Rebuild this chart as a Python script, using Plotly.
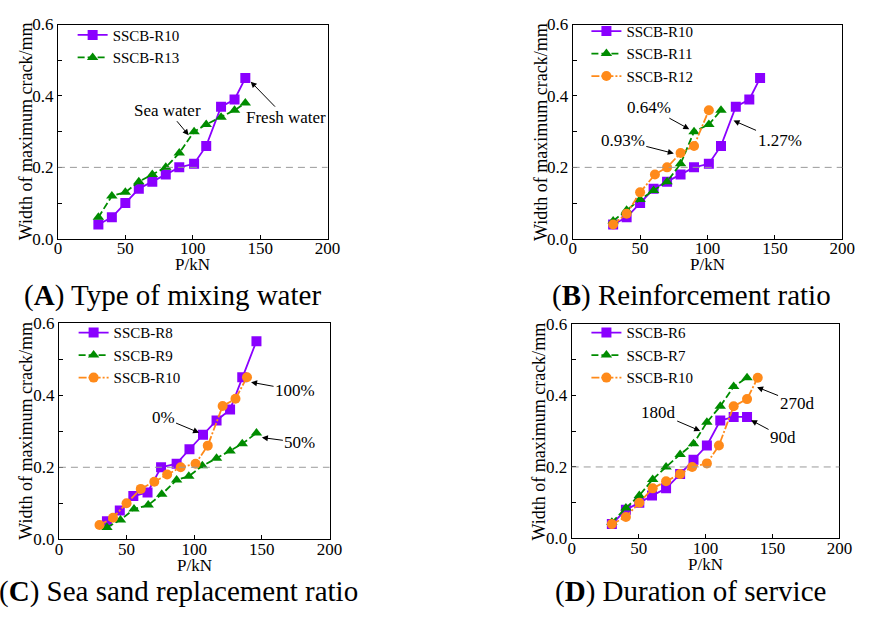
import plotly.graph_objects as go

# ---------------- data ----------------
# Panel A: type of mixing water
A_R10_x = [30, 40, 50, 60, 70, 80, 90, 101, 110, 121, 131, 139]
A_R10_y = [0.04, 0.06, 0.10, 0.14, 0.16, 0.18, 0.20, 0.21, 0.26, 0.37, 0.39, 0.45]
A_R13_x = [30, 40, 50, 60, 70, 80, 90, 101, 110, 121, 131, 139]
A_R13_y = [0.06, 0.12, 0.13, 0.16, 0.18, 0.20, 0.24, 0.30, 0.32, 0.34, 0.36, 0.38]

# Panel B: reinforcement ratio
B_R10_x = [30, 40, 50, 60, 70, 80, 90, 101, 110, 121, 131, 139]
B_R10_y = [0.04, 0.06, 0.10, 0.14, 0.16, 0.18, 0.20, 0.21, 0.26, 0.37, 0.39, 0.45]
B_R11_x = [30, 40, 50, 60, 70, 80, 90, 101, 110]
B_R11_y = [0.05, 0.08, 0.11, 0.135, 0.16, 0.21, 0.30, 0.32, 0.36]
B_R12_x = [30, 40, 50, 61, 70, 80, 90, 101]
B_R12_y = [0.04, 0.07, 0.13, 0.18, 0.20, 0.24, 0.26, 0.36]

# Panel C: sea sand replacement ratio
C_R8_x = [35.5, 45, 55, 65.5, 75.5, 87, 96.5, 106.5, 116.5, 126.5, 135.5, 146]
C_R8_y = [0.05, 0.08, 0.12, 0.13, 0.20, 0.21, 0.25, 0.29, 0.33, 0.36, 0.45, 0.55]
C_R9_x = [35.5, 45.5, 55.5, 66, 76, 87, 96, 106, 116.5, 126.5, 135.5, 146]
C_R9_y = [0.033, 0.054, 0.084, 0.095, 0.125, 0.165, 0.175, 0.204, 0.225, 0.245, 0.265, 0.295]
C_R10_x = [30, 40, 50, 60.5, 70.5, 80, 90, 101, 110, 121, 130.5, 139]
C_R10_y = [0.04, 0.06, 0.10, 0.14, 0.16, 0.18, 0.20, 0.21, 0.26, 0.37, 0.39, 0.45]

# Panel D: duration of service
D_R6_x = [30, 40.5, 50.5, 60, 70.5, 81, 91, 101, 111, 121, 131]
D_R6_y = [0.04, 0.08, 0.10, 0.12, 0.14, 0.18, 0.22, 0.26, 0.33, 0.34, 0.34]
D_R7_x = [30, 40.5, 50.5, 60.5, 70.5, 81, 91, 101, 111, 121, 131]
D_R7_y = [0.045, 0.085, 0.12, 0.165, 0.20, 0.235, 0.265, 0.325, 0.37, 0.425, 0.45]
D_R10_x = [30, 40.5, 50.5, 60.5, 70.5, 81, 90, 101, 110, 121, 131, 139]
D_R10_y = [0.04, 0.06, 0.10, 0.14, 0.16, 0.18, 0.20, 0.21, 0.26, 0.37, 0.39, 0.45]

panel_titles = ["(<b>A</b>) Type of mixing water", "(<b>B</b>) Reinforcement ratio",
                "(<b>C</b>) Sea sand replacement ratio", "(<b>D</b>) Duration of service"]
x_title = "P/kN"
y_title = "Width of maximum crack/mm"

# ---------------- style ----------------
W, H = 872, 624
FONT = "Liberation Serif, Times New Roman, serif"
PURPLE = "#8A00FF"
GREEN = "#008C00"
ORANGE = "#FF8A1A"

STY = {
    "purple": dict(color=PURPLE, dash="solid", symbol="square"),
    "green": dict(color=GREEN, dash="7px,3px", symbol="triangle-up"),
    "orange": dict(color=ORANGE, dash="8px,2px,2px,2px", symbol="circle"),
}

# plot-area pixel boxes (left, right, top, bottom)
boxes = [(55, 330, 16, 237), (580, 855, 16, 237), (56, 332, 324, 547), (579, 852, 325, 546)]

def px_x(p):
    return p / W

def px_y(p):
    return 1 - p / H

fig = go.Figure()
layout = dict(width=W, height=H, margin=dict(l=0, r=0, t=0, b=0),
              paper_bgcolor="white", plot_bgcolor="white",
              font=dict(family=FONT, size=16, color="black"),
              showlegend=True, annotations=[], shapes=[])

for i, (l, r, t, b) in enumerate(boxes):
    k = "" if i == 0 else str(i + 1)
    layout["xaxis" + k] = dict(domain=[px_x(l), px_x(r)], range=[0, 200], anchor="y" + k,
                               tickvals=[0, 50, 100, 150, 200], ticks="inside", ticklen=4,
                               tickcolor="black", showline=True, mirror=True, linecolor="black",
                               linewidth=1.2, showgrid=False, zeroline=False,
                               ticklabelstandoff=-6,
                               tickfont=dict(family=FONT, size=17))
    layout["yaxis" + k] = dict(domain=[px_y(b), px_y(t)], range=[0, 0.6], anchor="x" + k,
                               tickvals=[0, 0.2, 0.4, 0.6], tickformat=".1f", ticks="inside",
                               ticklen=4, tickcolor="black",
                               minor=dict(tickvals=[0.1, 0.3, 0.5], ticks="inside", ticklen=4,
                                          tickcolor="black"),
                               showline=True, mirror=True, linecolor="black", linewidth=1.2,
                               showgrid=False, zeroline=False,
                               tickfont=dict(family=FONT, size=17))
    # dashed 0.2 reference line
    layout["shapes"].append(dict(type="line", xref="x" + k + " domain", yref="y" + k,
                                 x0=0, x1=1, y0=0.2, y1=0.2,
                                 line=dict(color="#9A9A9A", width=1, dash="7px,5px")))
    # axis titles
    layout["annotations"].append(dict(text=x_title, xref="paper", yref="paper",
                                      x=px_x((l + r) / 2), y=px_y(b + 27), showarrow=False,
                                      xanchor="center", yanchor="middle",
                                      font=dict(family=FONT, size=17)))
    layout["annotations"].append(dict(text=y_title, xref="paper", yref="paper",
                                      x=px_x(l - 33), y=px_y((t + b) / 2), showarrow=False,
                                      textangle=-90, xanchor="center", yanchor="middle",
                                      font=dict(family=FONT, size=18)))

# panel titles
title_pos = [(172, 296), (701, 296), (178, 601), (700, 601)]
for txt, (cx, cy) in zip(panel_titles, title_pos):
    layout["annotations"].append(dict(text=txt, xref="paper", yref="paper", x=px_x(cx),
                                      y=px_y(cy), showarrow=False, xanchor="center",
                                      yanchor="middle", font=dict(family=FONT, size=29)))

series = [
    (0, "SSCB-R10", A_R10_x, A_R10_y, "purple"),
    (0, "SSCB-R13", A_R13_x, A_R13_y, "green"),
    (1, "SSCB-R10", B_R10_x, B_R10_y, "purple"),
    (1, "SSCB-R11", B_R11_x, B_R11_y, "green"),
    (1, "SSCB-R12", B_R12_x, B_R12_y, "orange"),
    (2, "SSCB-R8", C_R8_x, C_R8_y, "purple"),
    (2, "SSCB-R9", C_R9_x, C_R9_y, "green"),
    (2, "SSCB-R10", C_R10_x, C_R10_y, "orange"),
    (3, "SSCB-R6", D_R6_x, D_R6_y, "purple"),
    (3, "SSCB-R7", D_R7_x, D_R7_y, "green"),
    (3, "SSCB-R10", D_R10_x, D_R10_y, "orange"),
]
for p, name, xs, ys, st in series:
    k = "" if p == 0 else str(p + 1)
    s = STY[st]
    fig.add_trace(go.Scatter(x=xs, y=ys, name=name, mode="lines+markers",
                             xaxis="x" + k, yaxis="y" + k,
                             legend="legend" + ("" if p == 0 else str(p + 1)),
                             line=dict(color=s["color"], width=1.8, dash=s["dash"]),
                             marker=dict(symbol=s["symbol"], size=10, color=s["color"])))

# legends: (text start x px, first row centre y px)
leg_pos = [(112, 34), (636, 30), (113, 341), (636, 341)]
for i, (tx, ty) in enumerate(leg_pos):
    key = "legend" + ("" if i == 0 else str(i + 1))
    layout[key] = dict(x=px_x(tx - 42), y=px_y(ty - 24), xanchor="left", yanchor="top",
                       bgcolor="rgba(0,0,0,0)", borderwidth=0,
                       font=dict(family=FONT, size=15), tracegroupgap=0)

# callout annotations: (panel, text, head x, head y, ax px, ay px)
callouts = [
    (0, "Sea water", 97, 0.29, -21, -25),
    (0, "Fresh water", 143, 0.44, 35, 36),
    (1, "0.64%", 86.5, 0.307, -40, -22),
    (1, "0.93%", 75, 0.239, -51, -13),
    (1, "1.27%", 119.3, 0.331, 46, 20),
    (2, "0%", 103.6, 0.296, -36, -15),
    (2, "100%", 142, 0.436, 44, 8),
    (2, "50%", 150, 0.2825, 38, 5),
    (3, "180d", 96, 0.301, -42, -18),
    (3, "270d", 138.5, 0.4235, 40, 16),
    (3, "90d", 134, 0.331, 32, 17),
]
for p, txt, hx, hy, ax, ay in callouts:
    k = "" if p == 0 else str(p + 1)
    layout["annotations"].append(dict(text=txt, x=hx, y=hy, xref="x" + k, yref="y" + k,
                                      ax=ax, ay=ay, showarrow=True, arrowhead=2,
                                      arrowsize=1.2, arrowwidth=1, arrowcolor="black",
                                      standoff=0, font=dict(family=FONT, size=17)))

fig.update_layout(**layout)
fig.write_html("out.html")
